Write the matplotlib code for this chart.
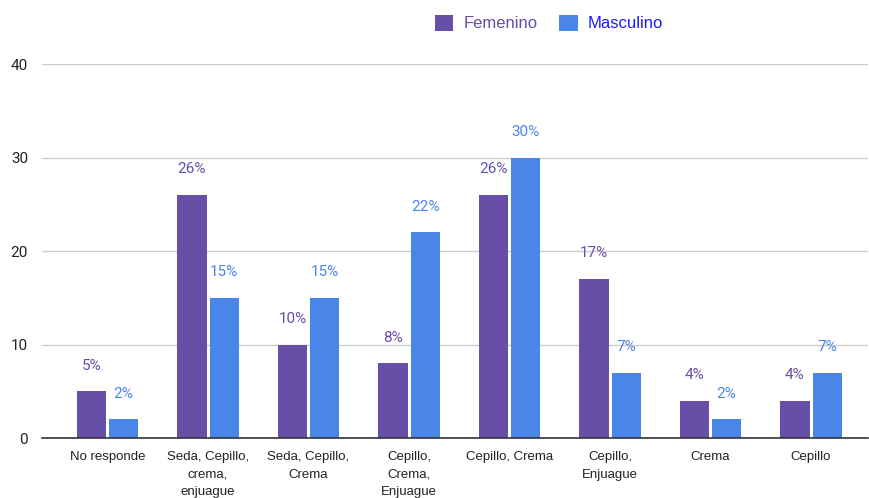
import matplotlib
matplotlib.use("Agg")
import matplotlib.pyplot as plt
import numpy as np

categories = ["No responde", "Seda, Cepillo,\ncrema,\nenjuague", "Seda, Cepillo,\nCrema",
              "Cepillo,\nCrema,\nEnjuague", "Cepillo, Crema", "Cepillo,\nEnjuague", "Crema", "Cepillo"]
femenino = [5, 26, 10, 8, 26, 17, 4, 4]
masculino = [2, 15, 15, 22, 30, 7, 2, 7]
fem_labels = ["5%", "26%", "10%", "8%", "26%", "17%", "4%", "4%"]
mas_labels = ["2%", "15%", "15%", "22%", "30%", "7%", "2%", "7%"]
yticks = [0, 10, 20, 30, 40]

plt.rcParams['font.family'] = ['Roboto', 'DejaVu Sans']
arial = ['Liberation Sans', 'DejaVu Sans']
c_f = "#674ea7"
c_m = "#4a86e8"

fig = plt.figure(figsize=(8.7, 4.98), dpi=100)
ax = fig.add_axes([42/870, 60/498, (868-42)/870, (438-64)/498])
x = np.arange(len(categories))
w = 0.29
off = 0.16
b1 = ax.bar(x - off, femenino, w, color=c_f, label="Femenino")
b2 = ax.bar(x + off, masculino, w, color=c_m, label="Masculino")
for xi, v, t in zip(x, femenino, fem_labels):
    ax.annotate(t, (xi - off, v), xytext=(0, 18.5), textcoords="offset points",
                ha="center", va="center", color=c_f, fontsize=11)
for xi, v, t in zip(x, masculino, mas_labels):
    ax.annotate(t, (xi + off, v), xytext=(0, 18.5), textcoords="offset points",
                ha="center", va="center", color=c_m, fontsize=11)

ax.set_xlim(-0.652, 7.567)
ax.set_ylim(0, 40)
ax.set_yticks(yticks)
ax.set_yticklabels([str(t) for t in yticks], fontsize=11, color="#222222")
ax.set_xticks(x)
ax.set_xticklabels(categories, fontsize=9.5, color="#222222", linespacing=1.62, family=arial)
ax.tick_params(length=0, pad=9.5)
ax.tick_params(axis='y', pad=10)
ax.grid(axis='y', color="#cccccc", linewidth=1)
ax.set_axisbelow(True)
for s in ["top", "right", "left"]:
    ax.spines[s].set_visible(False)
ax.spines["bottom"].set_color("#333333")
ax.spines["bottom"].set_linewidth(1.2)

leg = fig.legend(handles=[b1, b2], loc="center", bbox_to_anchor=(549/870, 1 - 23/498),
                 ncol=2, frameon=False, prop={'family': arial, 'size': 12},
                 handlelength=1.1, handleheight=1.1,
                 columnspacing=1.3, handletextpad=0.6)
texts = leg.get_texts()
texts[0].set_color(c_f)
texts[1].set_color("#1a1aff")

fig.savefig("out.png", dpi=100)
